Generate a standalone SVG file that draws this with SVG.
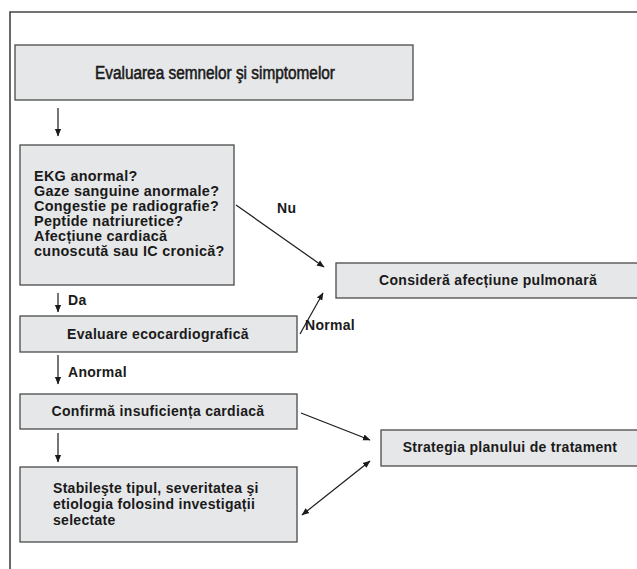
<svg xmlns="http://www.w3.org/2000/svg" width="637" height="569" viewBox="0 0 637 569">
<defs>
<marker id="ah" markerWidth="8" markerHeight="8" refX="7" refY="4" orient="auto" markerUnits="userSpaceOnUse">
<path d="M0,0.9 L7.5,4 L0,7.1 Z" fill="#1a1a1a"/>
</marker>
<marker id="ahs" markerWidth="8" markerHeight="8" refX="1" refY="4" orient="auto" markerUnits="userSpaceOnUse">
<path d="M8,0.9 L0.5,4 L8,7.1 Z" fill="#1a1a1a"/>
</marker>
</defs>
<style>
.box{fill:#e6e7e8;stroke:#4a4a4a;stroke-width:1.3}
.t{font-family:"Liberation Sans",Arial,sans-serif;font-size:14px;font-weight:bold;fill:#1a1a1a;letter-spacing:0.3px}
.big{font-size:14.4px}
.title{font-family:"Liberation Sans",Arial,sans-serif;font-size:17.5px;fill:#1a1a1a;stroke:#1a1a1a;stroke-width:0.55}
.c{stroke:#1a1a1a;stroke-width:1.2;fill:none}
.frame{stroke:#444;stroke-width:1.6;fill:none}
</style>
<path class="frame" d="M10,569 L10,12 L640,12"/>
<g id="n-evaluarea">
<rect class="box" x="15" y="45" width="398" height="55"/>
<text class="title" x="95" y="79" textLength="240" lengthAdjust="spacingAndGlyphs">Evaluarea semnelor şi simptomelor</text>
</g>
<g id="n-ekg">
<rect class="box" x="20" y="145" width="214" height="140"/>
<text class="t big" x="34" y="181">EKG anormal?</text>
<text class="t big" x="34" y="196">Gaze sanguine anormale?</text>
<text class="t big" x="34" y="211">Congestie pe radiografie?</text>
<text class="t big" x="34" y="226">Peptide natriuretice?</text>
<text class="t big" x="34" y="241">Afecțiune cardiacă</text>
<text class="t big" x="34" y="256">cunoscută sau IC cronică?</text>
</g>
<g id="n-eco">
<rect class="box" x="20" y="316" width="277" height="36"/>
<text class="t" x="158" y="339" text-anchor="middle">Evaluare ecocardiografică</text>
</g>
<g id="n-confirma">
<rect class="box" x="20" y="394" width="277" height="35"/>
<text class="t" x="158" y="416" text-anchor="middle">Confirmă insuficiența cardiacă</text>
</g>
<g id="n-stabileste">
<rect class="box" x="20" y="467" width="277" height="75"/>
<text class="t" x="53" y="493">Stabileşte tipul, severitatea şi</text>
<text class="t" x="53" y="509">etiologia folosind investigații</text>
<text class="t" x="53" y="525">selectate</text>
</g>
<g id="n-pulmonara">
<rect class="box" x="336" y="263" width="310" height="35"/>
<text class="t" x="488" y="285" text-anchor="middle">Consideră afecțiune pulmonară</text>
</g>
<g id="n-strategia">
<rect class="box" x="381" y="430" width="265" height="36"/>
<text class="t" x="510" y="452" text-anchor="middle">Strategia planului de tratament</text>
</g>
<g id="connectors">
<line class="c" x1="58" y1="108" x2="58" y2="136" marker-end="url(#ah)"/>
<line class="c" x1="58" y1="293" x2="58" y2="312" marker-end="url(#ah)"/>
<text class="t" x="68" y="305">Da</text>
<line class="c" x1="58" y1="355" x2="58" y2="384" marker-end="url(#ah)"/>
<text class="t" x="68" y="377">Anormal</text>
<line class="c" x1="58" y1="433" x2="58" y2="462" marker-end="url(#ah)"/>
<line class="c" x1="236" y1="205" x2="324" y2="267" marker-end="url(#ah)"/>
<text class="t" x="277" y="213">Nu</text>
<line class="c" x1="300" y1="334" x2="323" y2="293" marker-end="url(#ah)"/>
<text class="t" x="305" y="330">Normal</text>
<line class="c" x1="301" y1="413" x2="370" y2="440" marker-end="url(#ah)"/>
<line class="c" x1="302" y1="515" x2="370" y2="461" marker-start="url(#ahs)" marker-end="url(#ah)"/>
</g>
</svg>
